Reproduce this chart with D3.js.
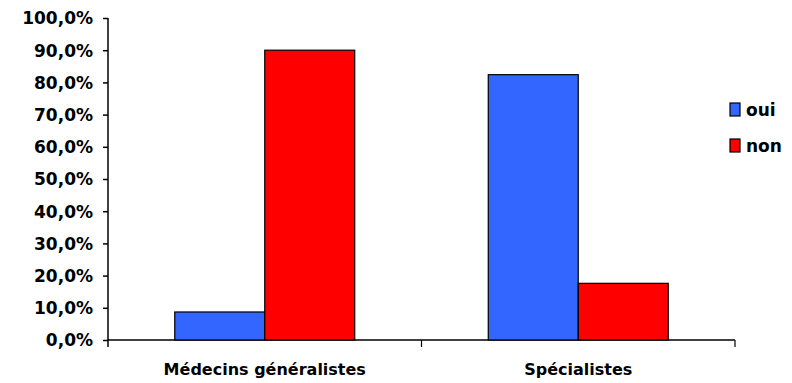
<!DOCTYPE html>
<html>
<head>
<meta charset="utf-8">
<script src="https://cdn.jsdelivr.net/npm/d3@7/dist/d3.min.js"></script>
<style>
  html, body { margin: 0; padding: 0; background: #fff; }
  svg { display: block; }
  text { font-family: "DejaVu Sans", Verdana, sans-serif; font-weight: bold; fill: #000; }
</style>
</head>
<body>
<svg id="chart" width="792" height="383"></svg>
<script>
// Categories, series and values (percent)
const categories = ["Médecins généralistes", "Spécialistes"];
const seriesNames = ["oui", "non"];
const seriesColors = ["#3366FF", "#FF0000"];
const ouiValues = [8.7, 82.4];
const nonValues = [90.0, 17.6];
const yTicks = [0, 10, 20, 30, 40, 50, 60, 70, 80, 90, 100];

const values = [ouiValues, nonValues];
const svg = d3.select("#chart");

const plot = { left: 108, right: 735, top: 18, bottom: 340 };

const x = d3.scaleBand()
  .domain(categories)
  .range([plot.left, plot.right])
  .paddingInner(0)
  .paddingOuter(0);

const xInner = d3.scaleBand()
  .domain(seriesNames)
  .range([0, x.bandwidth()])
  .paddingInner(0)
  .paddingOuter(0.742);

const y = d3.scaleLinear().domain([0, 100]).range([plot.bottom, plot.top]);

const fmt = v => d3.format(".1f")(v).replace(".", ",") + "%";

// Y axis
const yAxis = svg.append("g")
  .attr("transform", `translate(${plot.left},0)`)
  .call(d3.axisLeft(y).tickValues(yTicks).tickFormat(fmt).tickSize(5).tickPadding(10));
yAxis.select(".domain").attr("stroke", "#000").attr("stroke-width", 1.5)
  .attr("d", `M0,${plot.top}V${plot.bottom + 7}`);
yAxis.selectAll(".tick line").attr("stroke", "#000").attr("stroke-width", 1.5);
yAxis.selectAll(".tick text").style("font-size", "17px").attr("dy", "0.35em");

// X axis baseline with category separators
const xAxisG = svg.append("g");
xAxisG.append("line")
  .attr("x1", plot.left).attr("x2", plot.right)
  .attr("y1", plot.bottom).attr("y2", plot.bottom)
  .attr("stroke", "#000").attr("stroke-width", 1.5);
const bounds = categories.map(c => x(c) + x.bandwidth());
xAxisG.selectAll("line.sep").data(bounds).join("line")
  .attr("class", "sep")
  .attr("x1", d => d).attr("x2", d => d)
  .attr("y1", plot.bottom).attr("y2", plot.bottom + 7)
  .attr("stroke", "#000").attr("stroke-width", 1.2);
xAxisG.selectAll("text").data(categories).join("text")
  .attr("x", d => x(d) + x.bandwidth() / 2)
  .attr("y", 375)
  .attr("text-anchor", "middle")
  .style("font-size", "16px")
  .text(d => d);

// Bars
const groups = svg.append("g").selectAll("g").data(categories).join("g")
  .attr("transform", d => `translate(${x(d)},0)`);
groups.selectAll("rect")
  .data((c, i) => seriesNames.map((s, j) => ({ s, j, v: values[j][i] })))
  .join("rect")
  .attr("x", d => xInner(d.s))
  .attr("y", d => y(d.v))
  .attr("width", xInner.bandwidth())
  .attr("height", d => y(0) - y(d.v))
  .attr("fill", d => seriesColors[d.j])
  .attr("stroke", "#000")
  .attr("stroke-width", 1.2);

// Legend
const legend = svg.append("g").attr("transform", "translate(730,103)");
const items = legend.selectAll("g").data(seriesNames).join("g")
  .attr("transform", (d, i) => `translate(0,${i * 36})`);
items.append("rect")
  .attr("width", 10).attr("height", 13)
  .attr("fill", (d, i) => seriesColors[i])
  .attr("stroke", "#000").attr("stroke-width", 1.2);
items.append("text")
  .attr("x", 16).attr("y", 13)
  .style("font-size", "17px")
  .text(d => d);
</script>
</body>
</html>
